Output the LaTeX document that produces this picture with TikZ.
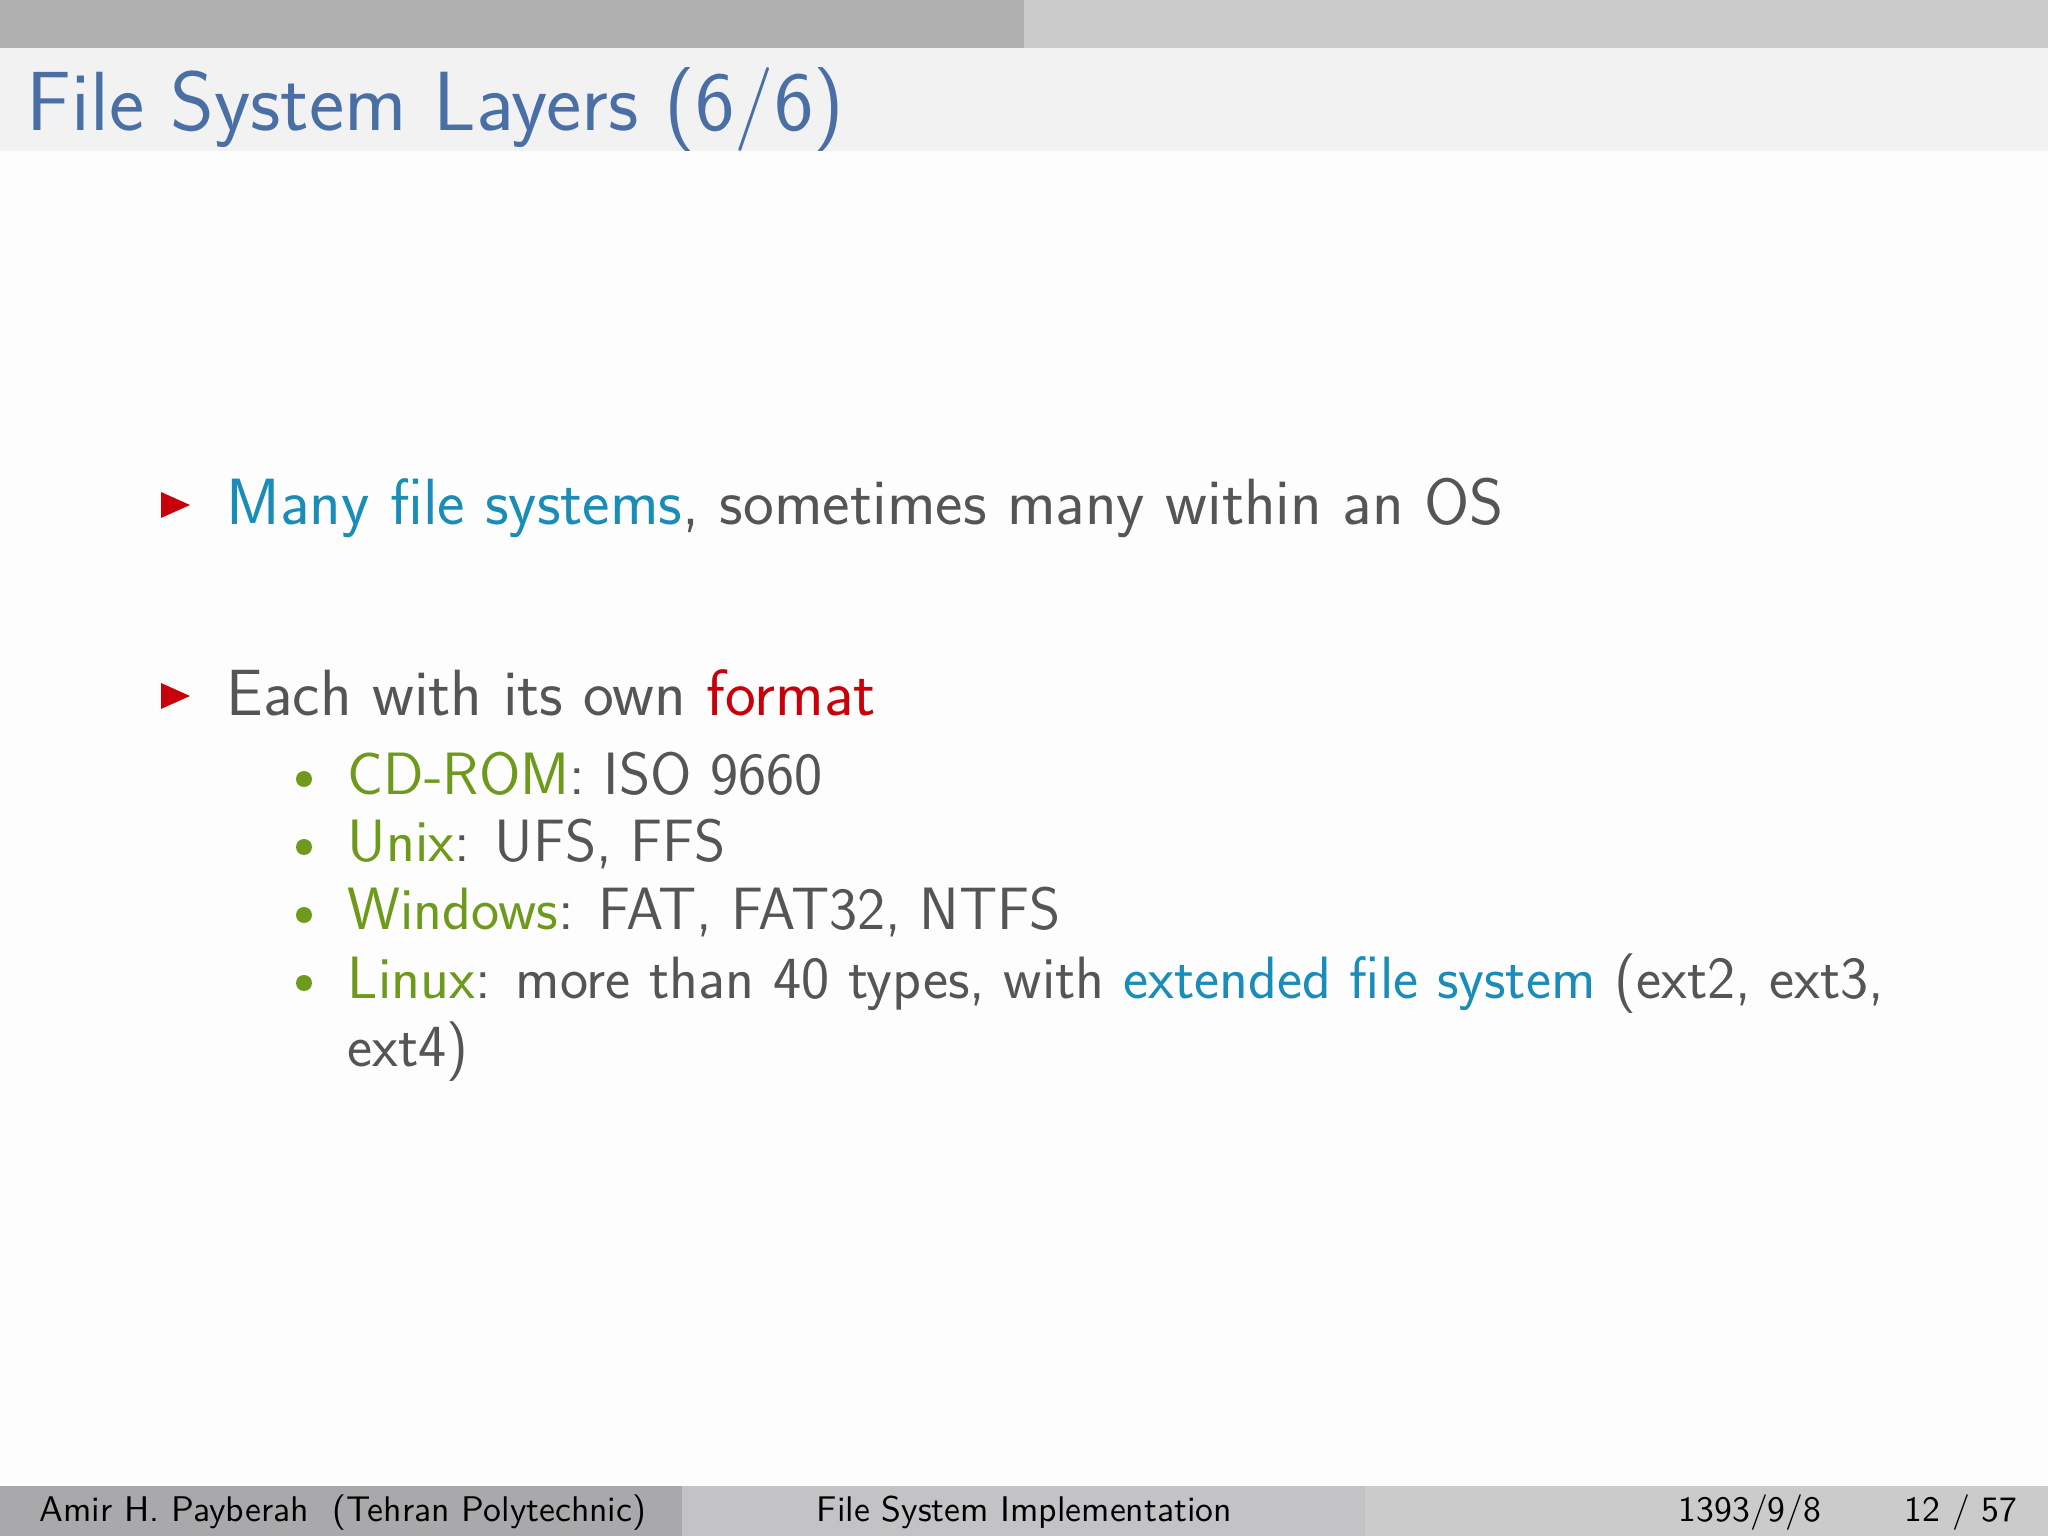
\documentclass[tikz,border=0pt]{standalone}
\usepackage{fontspec}
\definecolor{bgc}{HTML}{FDFDFD}
\definecolor{topA}{HTML}{B0B0B0}
\definecolor{topB}{HTML}{CBCBCB}
\definecolor{band}{HTML}{F2F2F3}
\definecolor{titc}{HTML}{4A6FA5}
\definecolor{txt}{HTML}{555555}
\definecolor{blu}{HTML}{1A8CB8}
\definecolor{olv}{HTML}{6E9A1C}
\definecolor{rd}{HTML}{C8000A}
\definecolor{fA}{HTML}{A9A9AB}
\definecolor{fB}{HTML}{C3C3C5}
\definecolor{fC}{HTML}{CBCBCB}
\tikzset{
 body/.style={anchor=base west,inner sep=0,font=\sffamily\fontsize{18.6}{22}\selectfont,text=txt},
 sub/.style={anchor=base west,inner sep=0,font=\sffamily\fontsize{17}{20}\selectfont,text=txt},
 foot/.style={anchor=base west,inner sep=0,font=\sffamily\fontsize{10.15}{12}\selectfont,text=black},
 tri/.style={fill=rd,draw=none},
 dot/.style={circle,fill=olv,inner sep=0,minimum size=0.16cm}
}
\begin{document}
\begin{tikzpicture}[x=1cm,y=-1cm]
\fill[bgc] (0,0) rectangle (20.48,15.36);
\fill[topA] (0,0) rectangle (10.24,0.483);
\fill[topB] (10.24,0) rectangle (20.48,0.483);
\fill[band] (0,0.483) rectangle (20.48,1.515);
\node[anchor=base west,inner sep=0,font=\sffamily\fontsize{23.9}{28}\selectfont,text=titc] (title) at (0.26,1.306) {File System Layers (6/6)};
% bullets
\fill[tri] (1.61,4.92) -- (1.90,5.05) -- (1.61,5.18) -- cycle;
\node[body] (b1) at (2.26,5.25) {\textcolor{blu}{Many file systems}, sometimes many within an OS};
\fill[tri] (1.61,6.83) -- (1.90,6.96) -- (1.61,7.09) -- cycle;
\node[body] (b2) at (2.26,7.157) {Each with its own \textcolor{rd}{format}};
\node[dot] (d1) at (3.04,7.79) {};
\node[sub] (s1) at (3.47,7.94) {\textcolor{olv}{CD-ROM}: ISO 9660};
\node[dot] (d2) at (3.04,8.47) {};
\node[sub] (s2) at (3.47,8.62) {\textcolor{olv}{Unix}: UFS, FFS};
\node[dot] (d3) at (3.04,9.15) {};
\node[sub] (s3) at (3.47,9.30) {\textcolor{olv}{Windows}: FAT, FAT32, NTFS};
\node[dot] (d4) at (3.04,9.83) {};
\node[sub] (s4) at (3.47,9.98) {\textcolor{olv}{Linux}: more than 40 types, with \textcolor{blu}{extended file system} (ext2, ext3,};
\node[sub] (s4b) at (3.47,10.66) {ext4)};
% footer
\fill[fA] (0,14.86) rectangle (6.82,15.36);
\fill[fB] (6.82,14.86) rectangle (13.65,15.36);
\fill[fC] (13.65,14.86) rectangle (20.48,15.36);
\node[foot] (f1) at (0.39,15.21) {Amir H. Payberah\ \ (Tehran Polytechnic)};
\node[foot] (f2) at (8.16,15.21) {File System Implementation};
\node[foot] (f3) at (16.78,15.21) {1393/9/8};
\node[foot] (f4) at (19.04,15.21) {12 / 57};
\end{tikzpicture}
\end{document}
